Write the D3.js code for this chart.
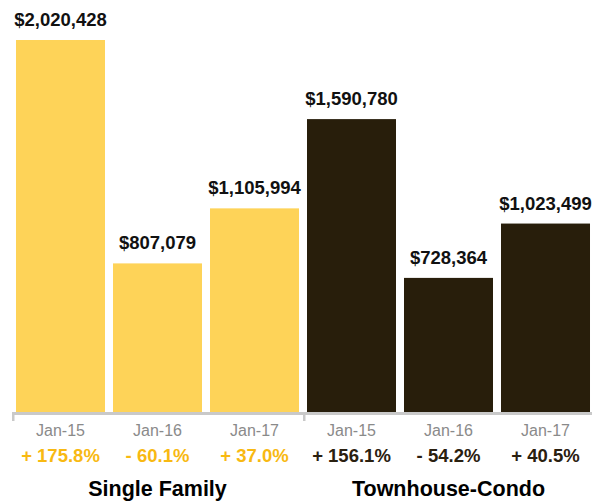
<!DOCTYPE html>
<html>
<head>
<meta charset="utf-8">
<script src="https://cdn.jsdelivr.net/npm/d3@7"></script>
<style>
  html, body { margin: 0; padding: 0; background: #fff; }
  svg { display: block; font-family: "Liberation Sans", Arial, Helvetica, sans-serif; }
</style>
</head>
<body>
<svg id="chart" width="592" height="501"></svg>
<script>
// Median sale price by property type, January of each year
const groups = ["Single Family", "Townhouse-Condo"];
const periods = ["Jan-15", "Jan-16", "Jan-17"];
const singleFamily = [2020428, 807079, 1105994];
const townhouseCondo = [1590780, 728364, 1023499];
const singleFamilyChange = ["+ 175.8%", "- 60.1%", "+ 37.0%"];
const townhouseCondoChange = ["+ 156.1%", "- 54.2%", "+ 40.5%"];

const seriesValues = [singleFamily, townhouseCondo];
const seriesChange = [singleFamilyChange, townhouseCondoChange];
const fills = ["#FED358", "#281E0B"];
const changeColors = ["#F8B912", "#2A2010"];

const rows = [];
groups.forEach((g, gi) => {
  periods.forEach((p, pi) => {
    rows.push({ key: g + "|" + p, group: g, gi, period: p,
                value: seriesValues[gi][pi], change: seriesChange[gi][pi] });
  });
});

const svg = d3.select("#chart");
const baseline = 412;

const x = d3.scaleBand()
  .domain(rows.map(d => d.key))
  .range([12, 594])
  .paddingInner(0.0825)
  .paddingOuter(0.0412);

const y = d3.scaleLinear()
  .domain([0, d3.max(rows, d => d.value)])
  .range([baseline, 40]);

const fmt = d3.format("$,.0f");

// bars
svg.append("g").selectAll("rect")
  .data(rows).join("rect")
  .attr("x", d => x(d.key))
  .attr("y", d => y(d.value))
  .attr("width", x.bandwidth())
  .attr("height", d => baseline - y(d.value))
  .attr("fill", d => fills[d.gi]);

// value labels above bars
svg.append("g").selectAll("text")
  .data(rows).join("text")
  .attr("x", d => x(d.key) + x.bandwidth() / 2)
  .attr("y", d => y(d.value) - 14)
  .attr("text-anchor", "middle")
  .attr("font-weight", "bold")
  .attr("font-size", 18.5)
  .attr("fill", "#111")
  .text(d => fmt(d.value));

// axis line with group separators
const axis = svg.append("g").attr("stroke", "#c9c9c9").attr("fill", "none");
axis.append("line")
  .attr("x1", 12).attr("x2", 594)
  .attr("y1", baseline + 1.5).attr("y2", baseline + 1.5)
  .attr("stroke-width", 3);
const sepX = [12, (x(rows[2].key) + x.bandwidth() + x(rows[3].key)) / 2];
axis.selectAll("line.sep")
  .data(sepX).join("line")
  .attr("class", "sep")
  .attr("x1", d => d + 1.25).attr("x2", d => d + 1.25)
  .attr("y1", baseline).attr("y2", baseline + 9)
  .attr("stroke-width", 2.5);

// period labels
svg.append("g").selectAll("text")
  .data(rows).join("text")
  .attr("x", d => x(d.key) + x.bandwidth() / 2)
  .attr("y", 435.5)
  .attr("text-anchor", "middle")
  .attr("font-size", 16)
  .attr("fill", "#8a8a8a")
  .text(d => d.period);

// year-over-year change labels
svg.append("g").selectAll("text")
  .data(rows).join("text")
  .attr("x", d => x(d.key) + x.bandwidth() / 2)
  .attr("y", 461.5)
  .attr("text-anchor", "middle")
  .attr("font-weight", "bold")
  .attr("font-size", 18.5)
  .attr("fill", d => changeColors[d.gi])
  .text(d => d.change);

// group labels centered under each group of bars
svg.append("g").selectAll("text")
  .data(groups).join("text")
  .attr("x", (g, gi) => {
    const first = x(rows[gi * 3].key);
    const last = x(rows[gi * 3 + 2].key) + x.bandwidth();
    return (first + last) / 2;
  })
  .attr("y", 496)
  .attr("text-anchor", "middle")
  .attr("font-weight", "bold")
  .attr("font-size", 21.5)
  .attr("fill", "#000")
  .text(g => g);
</script>
</body>
</html>
